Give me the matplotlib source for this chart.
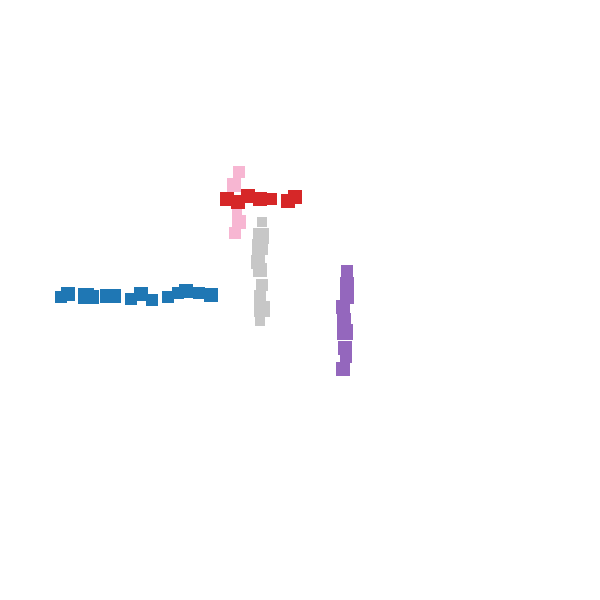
import matplotlib
matplotlib.use("Agg")
import matplotlib.pyplot as plt

# values (x, y, marker size)
blue_x = [61, 68, 86, 92, 107, 114, 131, 141, 152, 168, 178, 186, 199, 211]
blue_y = [297, 294, 296, 297, 296, 296, 299, 294, 300, 297, 293, 291, 293, 295]
blue_s = [11, 13, 14, 12, 13, 13, 11, 12, 11, 11, 11, 13, 11, 12]

pink_x = [239, 234, 237, 239, 235]
pink_y = [172, 185, 212, 222, 233]
pink_s = [11, 12, 8, 12, 11]

red_x = [227, 238, 248, 260, 271, 288, 295]
red_y = [199, 202, 196, 199, 199, 201, 197]
red_s = [13, 13, 13, 13, 11, 12, 12]

gray_x = [262, 261, 260, 258, 260, 262, 260, 262, 260]
gray_y = [222, 236, 247, 262, 270, 285, 296, 309, 321]
gray_s = [9, 14, 15, 12, 13, 10, 11, 14, 9]

purple_x = [347, 347, 347, 343, 344, 345, 345, 346, 343]
purple_y = [271, 284, 297, 307, 320, 332, 348, 357, 369]
purple_s = [11, 13, 12, 13, 12, 15, 13, 11, 12]

series = [
    (blue_x, blue_y, blue_s, "#1f77b4"),
    (pink_x, pink_y, pink_s, "#f7b6d2"),
    (red_x, red_y, red_s, "#d62728"),
    (gray_x, gray_y, gray_s, "#c7c7c7"),
    (purple_x, purple_y, purple_s, "#9467bd"),
]

dpi = 100
fig = plt.figure(figsize=(6, 6), dpi=dpi)
ax = fig.add_axes([0, 0, 1, 1])
ax.set_xlim(0, 600)
ax.set_ylim(600, 0)
ax.axis("off")

px_to_pt = 72.0 / dpi
for xs, ys, ss, c in series:
    sizes = [((s + 1.5) * px_to_pt) ** 2 for s in ss]
    ax.scatter(xs, ys, s=sizes, marker="s", c=c, linewidths=0)

fig.savefig("out.png", dpi=dpi)
